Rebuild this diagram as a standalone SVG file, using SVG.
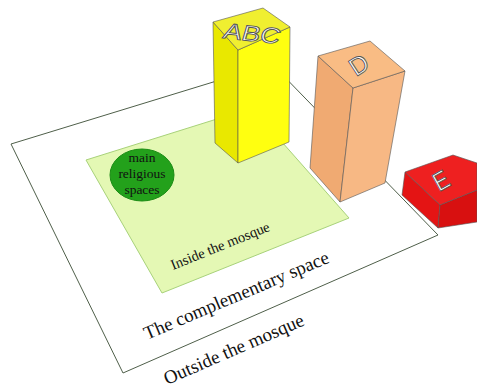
<svg xmlns="http://www.w3.org/2000/svg" width="477" height="390" viewBox="0 0 477 390">
<style>
.edge{stroke:#555;stroke-width:0.6;stroke-linejoin:round}
.lbl{font-family:"Liberation Serif",serif;fill:#111}
.big{font-family:"Liberation Sans",Arial,sans-serif;fill:#fff;stroke:#555;stroke-width:0.9}
</style>
<rect width="477" height="390" fill="#fff"/>
<g id="outside">
<polygon points="11,144 272,64 438,235 123,373" fill="#fff" stroke="#4f5f4a" stroke-width="1"/>
<text class="lbl" font-size="19" transform="translate(167,385) rotate(-23.5)">Outside the mosque</text>
</g>
<g id="complementary">
<text class="lbl" font-size="19" transform="translate(147,340) rotate(-23)">The complementary space</text>
</g>
<g id="inside">
<polygon points="86,160 252,108 349,218 162,293" fill="#e4f8b4" stroke="#a8d27a" stroke-width="1"/>
<text class="lbl" font-size="14.5" transform="translate(173,270) rotate(-22)">Inside the mosque</text>
</g>
<g id="main">
<ellipse cx="142" cy="175" rx="32" ry="26" fill="#23a11b" stroke="#1b8c15" stroke-width="1"/>
<text class="lbl" font-size="13.5" text-anchor="middle"><tspan x="142" y="162">main</tspan><tspan x="142" y="178">religious</tspan><tspan x="142" y="194">spaces</tspan></text>
</g>
<g id="boxABC">
<polygon class="edge" points="213,22 238,50 238,163 215,143" fill="#e9e800"/>
<polygon class="edge" points="238,50 290,27 289,142 238,163" fill="#ffff10"/>
<polygon class="edge" points="213,22 263,8 290,27 238,50" fill="#f0ef30"/>
<text class="big" font-size="22" transform="translate(222,38) rotate(6) skewX(-10) scale(1.25,1)">ABC</text>
</g>
<g id="boxD">
<polygon class="edge" points="318,56 353,88 340,202 310,168" fill="#f0aa72"/>
<polygon class="edge" points="353,88 405,71 385,183 340,202" fill="#f7b884"/>
<polygon class="edge" points="318,56 370,41 405,71 353,88" fill="#f9bc84"/>
<text class="big" font-size="25" transform="translate(356,77) rotate(-33)">D</text>
</g>
<g id="boxE">
<polygon class="edge" points="405,172 440,205 438,228 402,195" fill="#e41414"/>
<polygon class="edge" points="440,205 477,190 477,222 438,228" fill="#d81010"/>
<polygon class="edge" points="405,172 453,155 477,163 477,190 440,205" fill="#ee2020"/>
<text class="big" font-size="26" transform="translate(439,192) rotate(-29) scale(0.85,1)">E</text>
</g>
</svg>
